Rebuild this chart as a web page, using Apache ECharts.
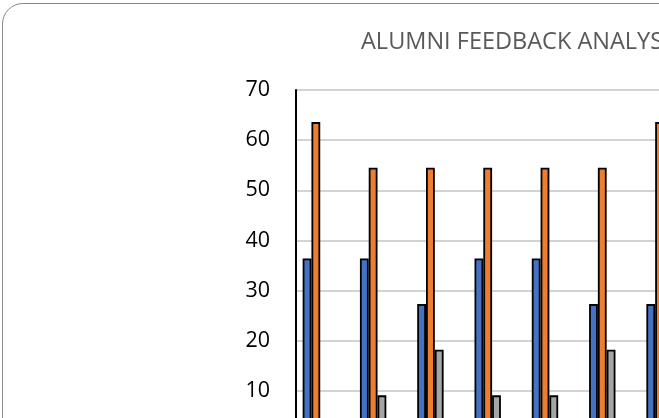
<!DOCTYPE html>
<html>
<head>
<meta charset="utf-8">
<script src="https://cdn.jsdelivr.net/npm/echarts@6/dist/echarts.min.js"></script>
<style>
  html, body { margin: 0; padding: 0; width: 659px; height: 418px; overflow: hidden; background: #fff; }
  #frame { position: absolute; left: 2px; top: 3px; width: 760px; height: 520px;
           border: 1px solid #898989; border-radius: 21px; box-sizing: border-box; }
  #alumniChart { position: absolute; left: 0; top: 0; width: 720px; height: 470px; }
</style>
</head>
<body>
<div id="frame"></div>
<div id="alumniChart"></div>
<script>
  // feedback items (only the visible part of the chart)
  const questions = ['Q1', 'Q2', 'Q3', 'Q4', 'Q5', 'Q6', 'Q7']
  // percentage of 11 responses per rating
  const excellent = [36.4, 36.4, 27.3, 36.4, 36.4, 27.3, 27.3]
  const good      = [63.6, 54.5, 54.5, 54.5, 54.5, 54.5, 63.6]
  const average   = [0, 9.1, 18.2, 9.1, 9.1, 18.2, 9.1]
  const poor      = [0, 0, 0, 0, 0, 0, 0]
  const veryPoor  = [0, 0, 0, 0, 0, 0, 0]
  const yTicks = [0, 10, 20, 30, 40, 50, 60, 70]

  const chartDom = document.getElementById('alumniChart')
  const myChart = echarts.init(chartDom)

  function barSeries(name, data, color) {
    return {
      name: name,
      type: 'bar',
      barWidth: 8.8,
      barGap: '0%',
      itemStyle: { color: color, borderColor: '#000', borderWidth: 1.8 },
      data: data
    }
  }

  let option = {
    animation: false,
    title: {
      text: 'ALUMNI FEEDBACK ANALYSIS',
      left: 361,
      top: 30,
      padding: 0,
      textStyle: {
        color: '#595959',
        fontFamily: 'Open Sans',
        fontSize: 23.5,
        fontWeight: 'normal'
      }
    },
    grid: { left: 296, right: 23, top: 90, bottom: 29 },
    xAxis: {
      type: 'category',
      data: questions,
      axisLine: { lineStyle: { color: '#bfbfbf' } },
      axisTick: { show: false },
      axisLabel: { show: false }
    },
    yAxis: {
      type: 'value',
      min: yTicks[0],
      max: yTicks[yTicks.length - 1],
      interval: 10,
      axisLine: { show: true, lineStyle: { color: '#000', width: 2 } },
      axisTick: { show: false },
      axisLabel: {
        margin: 26,
        color: '#000',
        fontFamily: 'Open Sans',
        fontSize: 21.5
      },
      splitLine: { lineStyle: { color: '#c4c4c4', width: 1.5 } }
    },
    series: [
      barSeries('Excellent', excellent, '#4472c4'),
      barSeries('Good', good, '#ed7d31'),
      barSeries('Average', average, '#a5a5a5'),
      barSeries('Poor', poor, '#ffc000'),
      barSeries('Very Poor', veryPoor, '#5b9bd5')
    ]
  }

  option && myChart.setOption(option)
</script>
</body>
</html>
